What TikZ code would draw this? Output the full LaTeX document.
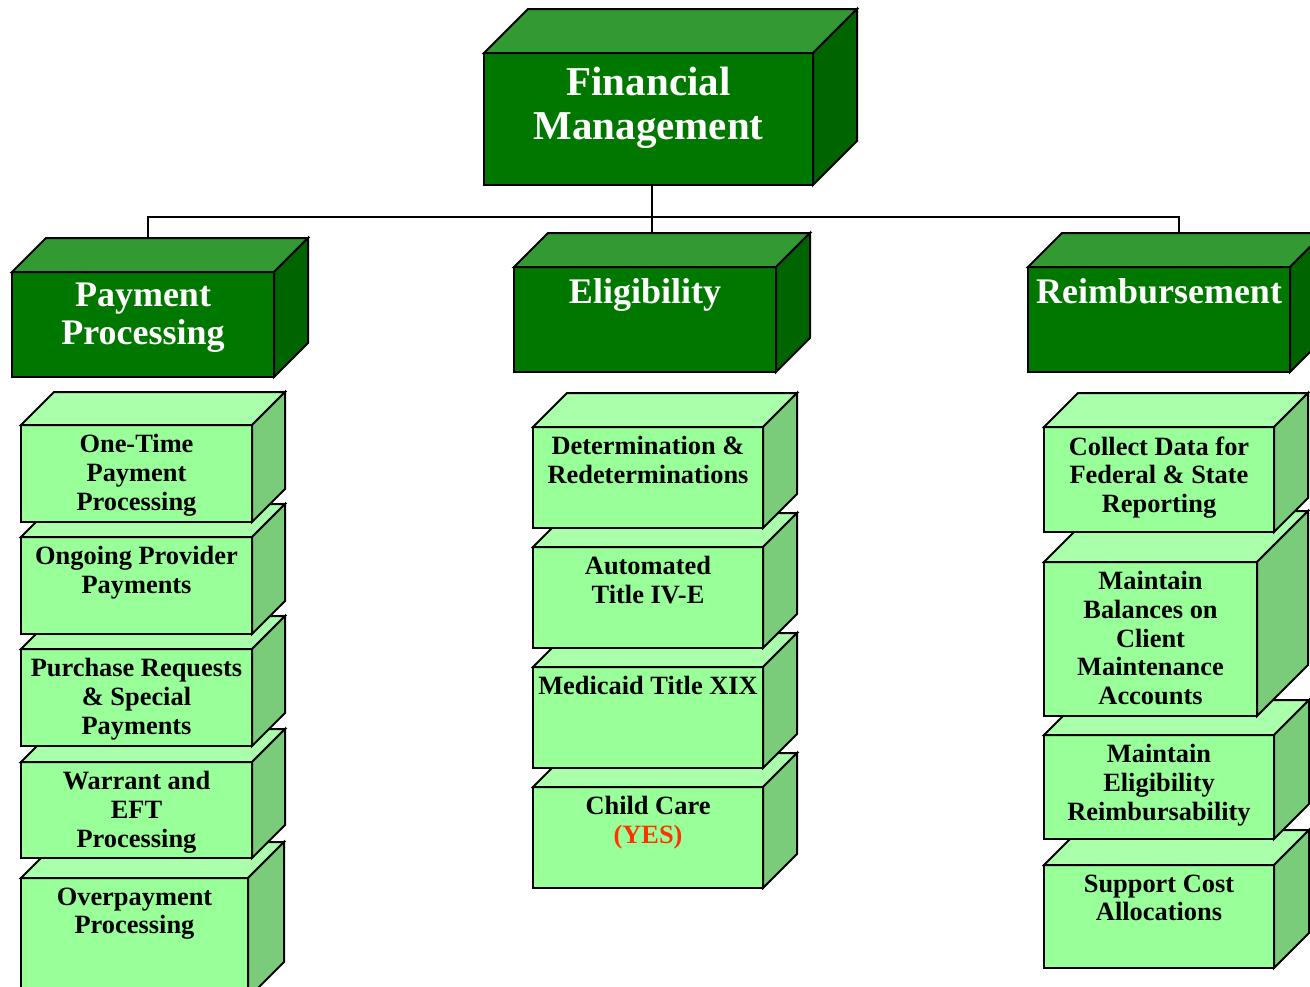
\documentclass[tikz,border=0pt]{standalone}
\usepackage{fontspec}
\setmainfont{Liberation Serif}
\usepackage{tikz}
\usetikzlibrary{calc,positioning}

\definecolor{darkfront}{HTML}{007800}
\definecolor{darktop}{HTML}{339933}
\definecolor{darkside}{HTML}{006400}
\definecolor{lightfront}{HTML}{99FF99}
\definecolor{lighttop}{HTML}{AAFFAA}
\definecolor{lightside}{HTML}{7ACC7A}
\definecolor{yesred}{HTML}{FF3300}

\tikzset{
  edge/.style={draw=black, line width=1pt},
  hfront/.style={edge, fill=darkfront, inner sep=0pt, outer sep=0pt},
  htop/.style={edge, fill=darktop},
  hside/.style={edge, fill=darkside},
  headtext/.style={anchor=north, inner sep=0pt, align=center, text=white},
  htext/.style={headtext, font=\bfseries\fontsize{18}{19}\selectfont, yshift=-5.5pt},
  tfront/.style={hfront}, ttop/.style={htop}, tside/.style={hside},
  ttext/.style={headtext, font=\bfseries\fontsize{20.5}{22}\selectfont, yshift=-7pt},
  sfront/.style={edge, fill=lightfront, inner sep=0pt, outer sep=0pt},
  stop/.style={edge, fill=lighttop},
  sside/.style={edge, fill=lightside},
  stext/.style={anchor=north, inner sep=0pt, align=center, text=black,
    font=\bfseries\fontsize{13.2}{14.3}\selectfont, yshift=-4.6pt}
}

% #1 name, #2 style prefix, #3/#4 front top left, #5 width, #6 height, #7 depth, #8 text
\newcommand{\block}[8]{%
  \node[#2front, anchor=north west, minimum width=#5*0.5pt, minimum height=#6*0.5pt] (#1) at (#3,#4) {};
  \filldraw[#2top] (#1.north west) -- ++(#7,-#7) -- ([shift={(#7,-#7)}]#1.north east) -- (#1.north east) -- cycle;
  \filldraw[#2side] (#1.north east) -- ++(#7,-#7) -- ([shift={(#7,-#7)}]#1.south east) -- (#1.south east) -- cycle;
  \node[#2text] (#1-txt) at (#1.north) {#8};
}

\begin{document}
\begin{tikzpicture}[x=0.5pt,y=-0.5pt]
  \useasboundingbox (0,0) rectangle (1310,986);

  % top and headings
  \block{fm}{t}{484}{53}{329}{132}{44}{Financial\\Management}
  \block{pp}{h}{12}{272}{262}{105}{34}{Payment\\Processing}
  \block{el}{h}{514}{267}{262}{105}{34}{Eligibility}
  \block{rb}{h}{1028}{267}{262}{105}{34}{Reimbursement}

  \draw[edge] ([shift={(3.5,0)}]fm.south) -- ++(0,32) coordinate (bus);
  \draw[edge] (bus) -| ([shift={(5,-34)}]pp.north);
  \draw[edge] (bus) -| ([shift={(20,-34)}]rb.north);
  \draw[edge] (bus) -- ([shift={(7,-34)}]el.north);

  % payment processing
  \block{op}{s}{21}{878}{227}{120}{36}{Overpayment\\Processing}
  \block{we}{s}{21}{762}{231}{96}{33}{Warrant and\\EFT\\Processing}
  \block{pr}{s}{21}{649}{231}{97}{33}{Purchase Requests\\\& Special\\Payments}
  \block{og}{s}{21}{537}{231}{97}{33}{Ongoing Provider\\Payments}
  \block{ot}{s}{21}{425}{231}{97}{33}{One-Time\\Payment\\Processing}

  % eligibility
  \block{cc}{s}{533}{787}{230}{101}{34}{Child Care\\\textcolor{yesred}{(YES)}}
  \block{md}{s}{533}{667}{230}{101}{34}{Medicaid Title XIX}
  \block{at}{s}{533}{547}{230}{101}{34}{Automated\\Title IV-E}
  \block{dr}{s}{533}{427}{230}{101}{34}{Determination \&\\Redeterminations}

  % reimbursement
  \block{sc}{s}{1044}{865}{230}{103}{35}{Support Cost\\Allocations}
  \block{me}{s}{1044}{735}{230}{104}{35}{Maintain\\Eligibility\\Reimbursability}
  \block{mb}{s}{1044}{562}{213}{154}{51}{Maintain\\Balances on\\Client\\Maintenance\\Accounts}
  \block{cd}{s}{1044}{427}{230}{105}{34}{Collect Data for\\Federal \& State\\Reporting}
\end{tikzpicture}
\end{document}
